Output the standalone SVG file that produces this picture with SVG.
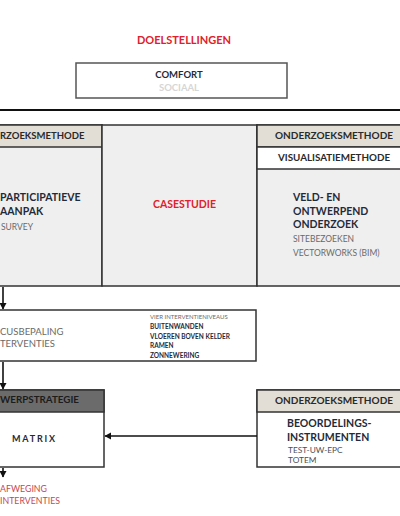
<svg xmlns="http://www.w3.org/2000/svg" width="400" height="516" viewBox="0 0 400 516">
<style>
text{font-family:Lato,"Open Sans","Liberation Sans",sans-serif}
.b{font-weight:700}
.navy{fill:#1f2b3a}
.dark{fill:#2a2a2a}
.grey{fill:#6a6a6a}
.red{fill:#e0202a}
.box{stroke:#333;stroke-width:1.5}
.hdr{fill:#e2ded6}
.body{fill:#efefef}
.conn{stroke:#111;stroke-width:1.6;fill:none}
</style>
<defs>
<marker id="ah" markerWidth="8" markerHeight="8" refX="6" refY="4" orient="auto" markerUnits="userSpaceOnUse">
<path d="M0,0.5 L6.5,4 L0,7.5 Z" fill="#111"/>
</marker>
</defs>
<rect width="400" height="516" fill="#fff"/>

<g id="title">
<text x="184" y="44" font-size="11" text-anchor="middle" class="b red">DOELSTELLINGEN</text>
</g>

<g id="doelen">
<rect x="76" y="63" width="211" height="35" fill="#fff" stroke="#555" stroke-width="1.5"/>
<text x="179" y="77.5" font-size="9.5" text-anchor="middle" class="b navy">COMFORT</text>
<text x="179" y="91" font-size="9.5" text-anchor="middle" class="b" fill="#d6d6d6">SOCIAAL</text>
</g>

<g id="divider">
<line x1="0" y1="110" x2="400" y2="110" stroke="#111" stroke-width="2"/>
</g>

<g id="participatief">
<rect x="-2" y="125" width="104" height="161" class="box body"/>
<rect x="-2" y="125" width="104" height="22" class="box hdr"/>
<text x="0" y="138.5" font-size="9.5" class="b dark">RZOEKSMETHODE</text>
<text x="0" y="201" font-size="10.5" class="b navy">PARTICIPATIEVE</text>
<text x="0" y="214.5" font-size="10.5" class="b navy">AANPAK</text>
<text x="1" y="230" font-size="8.5" class="grey">SURVEY</text>
</g>

<g id="casestudie">
<rect x="102" y="125" width="155" height="161" class="box body"/>
<text x="184.5" y="208" font-size="10.5" text-anchor="middle" class="b red">CASESTUDIE</text>
</g>

<g id="veldonderzoek">
<rect x="257" y="125" width="150" height="161" class="box body"/>
<rect x="257" y="125" width="150" height="22" class="box hdr"/>
<rect x="257" y="147" width="150" height="22" class="box" fill="#fff"/>
<text x="334" y="138.5" font-size="10" text-anchor="middle" class="b dark">ONDERZOEKSMETHODE</text>
<text x="334" y="161" font-size="9.8" text-anchor="middle" class="b dark">VISUALISATIEMETHODE</text>
<text x="293" y="201" font-size="10.5" class="b navy">VELD- EN</text>
<text x="293" y="214.5" font-size="10.5" class="b navy">ONTWERPEND</text>
<text x="293" y="228" font-size="10.5" class="b navy">ONDERZOEK</text>
<text x="293" y="242" font-size="8.5" class="grey">SITEBEZOEKEN</text>
<text x="293" y="256" font-size="8.5" class="grey">VECTORWORKS (BIM)</text>
</g>

<g id="focusbepaling">
<rect x="-2" y="310" width="258" height="51" class="box" fill="#fff"/>
<text x="0" y="334.5" font-size="9.5" class="grey">CUSBEPALING</text>
<text x="0" y="346.5" font-size="9.5" class="grey">TERVENTIES</text>
<text x="150" y="318.5" font-size="6" class="grey">VIER INTERVENTIENIVEAUS</text>
<text x="150" y="328.5" font-size="6.5" class="b navy">BUITENWANDEN</text>
<text x="150" y="338.5" font-size="6.5" class="b navy">VLOEREN BOVEN KELDER</text>
<text x="150" y="347.5" font-size="6.5" class="b navy">RAMEN</text>
<text x="150" y="357.5" font-size="6.5" class="b navy">ZONNEWERING</text>
</g>

<g id="ontwerpstrategie">
<rect x="-2" y="390" width="106" height="77" class="box" fill="#fff"/>
<rect x="-2" y="390" width="106" height="22" class="box" fill="#6b6b6b"/>
<text x="0" y="403" font-size="9.8" class="b" fill="#1c1c1c">WERPSTRATEGIE</text>
<text x="12" y="442" font-size="9" letter-spacing="1.8" class="b navy">MATRIX</text>
</g>

<g id="beoordeling">
<rect x="257" y="390" width="150" height="77" class="box" fill="#fff"/>
<rect x="257" y="390" width="150" height="22" class="box hdr"/>
<text x="334" y="403.5" font-size="10" text-anchor="middle" class="b dark">ONDERZOEKSMETHODE</text>
<text x="287" y="427" font-size="10.5" class="b navy">BEOORDELINGS-</text>
<text x="287" y="440.5" font-size="10.5" class="b navy">INSTRUMENTEN</text>
<text x="288" y="453" font-size="8.3" fill="#4a4f58">TEST-UW-EPC</text>
<text x="288" y="463" font-size="8.3" fill="#4a4f58">TOTEM</text>
</g>

<g id="afweging">
<text x="0" y="492" font-size="8.8" fill="#c8474f">AFWEGING</text>
<text x="0" y="503.5" font-size="8.8" fill="#c8474f">INTERVENTIES</text>
</g>

<g id="connectors">
<line x1="3" y1="287" x2="3" y2="309" class="conn" marker-end="url(#ah)"/>
<line x1="3" y1="362" x2="3" y2="389" class="conn" marker-end="url(#ah)"/>
<line x1="3" y1="468" x2="3" y2="477" class="conn" marker-end="url(#ah)"/>
<line x1="257" y1="436" x2="105" y2="436" class="conn" marker-end="url(#ah)"/>
</g>
</svg>
